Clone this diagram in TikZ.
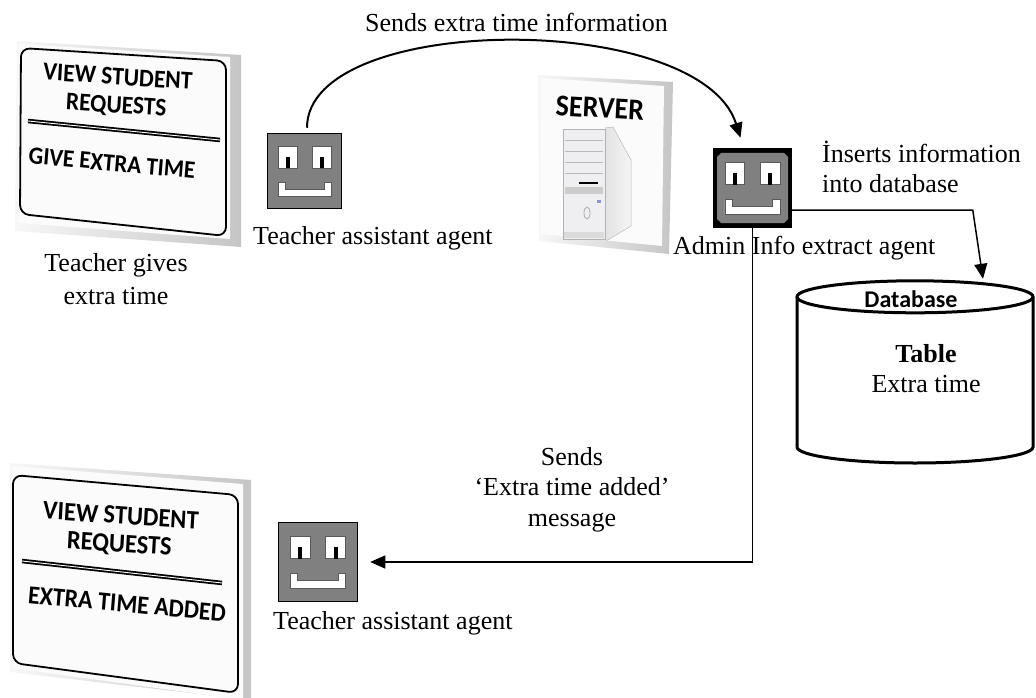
\documentclass[tikz,border=0pt]{standalone}
\usepackage{fontspec}
\setmainfont{Liberation Serif}
\newfontfamily\signfont{Carlito}
\usetikzlibrary{arrows.meta,calc}
\definecolor{agentgray}{RGB}{128,128,128}

% eyes and mouth of an agent icon, drawn around the centre of node #1, scaled by #2
\newcommand\agentface[2]{%
  \begin{scope}[shift={(#1.center)}, scale=#2]
    \draw[facepart] (-26.5,-25) rectangle (-7.5,-3);
    \draw[facepart] (7.5,-25) rectangle (26.5,-3);
    \fill[black] (-19,-14) rectangle (-15,-3);
    \fill[black] (15,-14) rectangle (19,-3);
    \draw[facepart] (-26.5,11) -- (-19.5,11) -- (-19.5,18) -- (19.5,18)
      -- (19.5,11) -- (26.5,11) -- (26.5,25) -- (-26.5,25) -- cycle;
  \end{scope}}

\begin{document}
\begin{tikzpicture}[x=1pt,y=-1pt,
  font=\fontsize{26}{31}\selectfont,
  agentbox/.style={draw=black, line width=1.2pt, fill=agentgray,
    minimum width=#1, minimum height=#1, inner sep=0pt, outer sep=0pt},
  facepart/.style={fill=white, draw=black!65, line width=0.8pt},
  flow/.style={draw=black, line width=1.5pt, -{Triangle[length=15pt,width=13pt]}},
  label/.style={inner sep=0pt, anchor=base west},
  clabel/.style={inner sep=0pt, anchor=base},
  signtxt/.style={font=\signfont\bfseries\fontsize{#1}{#1}\selectfont,
    inner sep=0pt, yscale=1.08},
  signhead/.style={font=\signfont\bfseries\fontsize{#1}{26}\selectfont,
    inner sep=0pt, yscale=1.08, align=center},
  signborder/.style={line width=1.8pt, rounded corners=9pt},
  sigline/.style={double=white, double distance=0.9pt, line width=1.8pt},
  bevel/.style={left color=gray!6, right color=gray!45},
  face/.style={fill=gray!3}]

\useasboundingbox (0,0) rectangle (1036,698);
\fill[white] (0,0) rectangle (1036,698);

% ---------- sign: view requests / give extra time ----------
\shade[bevel] (17,41) -- (241,55) -- (241,247) -- (15,231) -- cycle;
\fill[face] (19,44) -- (230,57) -- (230,239) -- (18,223) -- cycle;
\draw[signborder] (20.5,130) -- (21,48) -- (226,61) -- (226,236) -- (20,214) -- cycle;
\node[signhead=23.5, rotate=-3.5] (s1a) at (117,92) {VIEW STUDENT\\REQUESTS};
\draw[sigline] (28,121) -- (220,140);
\node[signtxt=23, rotate=-5] (s1c) at (112,163) {GIVE EXTRA TIME};
\node[clabel] (tg1) at (116,271) {Teacher gives};
\node[clabel] (tg2) at (116,304) {extra time};

% ---------- sign: view requests / extra time added ----------
\shade[bevel] (10,463) -- (251,480) -- (251,700) -- (10,672) -- cycle;
\fill[face] (12,466) -- (243,484) -- (243,700) -- (12,668) -- cycle;
\draw[signborder] (13,570) -- (13,475) -- (238,495) -- (238,693) -- (13,663) -- cycle;
\node[signhead=24.5, rotate=-3.5] (s2a) at (120,531) {VIEW STUDENT\\REQUESTS};
\draw[sigline] (22,561) -- (222,583);
\node[signtxt=24, rotate=-5] (s2c) at (127,604) {EXTRA TIME ADDED};

% ---------- server panel ----------
\shade[bevel] (538,75) -- (673,82) -- (669,254) -- (539,241) -- cycle;
\fill[face] (541,78) -- (664,86) -- (662,246) -- (541,234) -- cycle;
\node[signtxt=28, rotate=-3] (srv) at (600,108) {SERVER};
% tower
\shade[left color=gray!22, right color=gray!8] (605,128) -- (613,127) -- (631,160) -- (631,226) -- (606,241) -- cycle;
\draw[gray!55, line width=0.5pt] (605,128) -- (613,127) -- (631,160) -- (631,226) -- (606,241);
\fill[blue!6!gray!12, draw=gray!60, line width=0.5pt] (563,129) rectangle (605,239);
\foreach \yy in {140,151,162,173}
  \draw[gray!55, line width=0.6pt] (565,\yy) -- (603,\yy);
\draw[black, line width=1.6pt] (579,183) -- (598,183);
\fill[gray!40] (565,187) rectangle (603,194);
\fill[blue!45!gray!60] (597,200) rectangle (601,203);
\draw[gray!65, line width=0.8pt] (587,213) ellipse [x radius=3pt, y radius=6pt];
\fill[gray!28] (564,232) rectangle (604,238);

% ---------- agents ----------
\node[agentbox=74.5pt] (ta1) at (304.5,171) {};
\agentface{ta1}{1}
\node[clabel, anchor=base west] (taa1) at (253,244) {Teacher assistant agent};

\node[agentbox=78.5pt, fill=black, draw=black] (adm) at (752.5,188) {};
\fill[agentgray] (717,157) -- (721,153) -- (784,153) -- (788,157) -- (788,219)
  -- (784,223) -- (721,223) -- (717,219) -- cycle;
\agentface{adm}{1.04}
\node[label] (aie) at (673,254) {Admin Info extract agent};

\node[agentbox=78.5pt] (ta3) at (318,562) {};
\agentface{ta3}{1.04}
\node[label] (taa3) at (273,629) {Teacher assistant agent};

% ---------- database ----------
\node[minimum width=236pt, minimum height=166pt, inner sep=0pt] (db) at (915,380) {};
\fill[white] (797,297) -- (797,447) .. controls (797,455.8) and (849.8,463) .. (915,463)
  .. controls (980.2,463) and (1033,455.8) .. (1033,447) -- (1033,297) -- cycle;
\draw[line width=3pt] (797,297) -- (797,447) .. controls (797,455.8) and (849.8,463) .. (915,463)
  .. controls (980.2,463) and (1033,455.8) .. (1033,447) -- (1033,297);
\draw[line width=3pt, fill=white] (db.north) ellipse [x radius=118pt, y radius=16pt];
\node[inner sep=0pt, font=\signfont\bfseries\fontsize{24}{24}\selectfont] (dbl) at (911,299) {Database};
\node[clabel] (tbl) at (926,362) {\textbf{Table}};
\node[clabel] (ext) at (926,392) {Extra time};

% ---------- messages ----------
\node[label] (hdr) at (365,32) {Sends extra time information};
\coordinate (admtop) at ([xshift=-12pt, yshift=11pt]adm.north);
\draw[flow, line width=2pt] ([xshift=2.5pt, yshift=6pt]ta1.north)
  .. controls (307,12) and (700,10) .. (admtop);

\node[label] (ins1) at (822,162) {İnserts information};
\node[label] (ins2) at (822,193) {into database};
\coordinate (dbin) at ([xshift=68pt, yshift=18pt]db.north);
\draw[flow] ([yshift=-22pt]adm.east) -- ++(181,0) -- (dbin);

\node[clabel] (snd1) at (572,465) {Sends};
\node[clabel] (snd2) at (572,495) {‘Extra time added’};
\node[clabel] (snd3) at (572,526) {message};
\draw[flow] (adm.south) -- (adm.south |- ta3.east) -- ([xshift=13pt]ta3.east);

\end{tikzpicture}
\end{document}
